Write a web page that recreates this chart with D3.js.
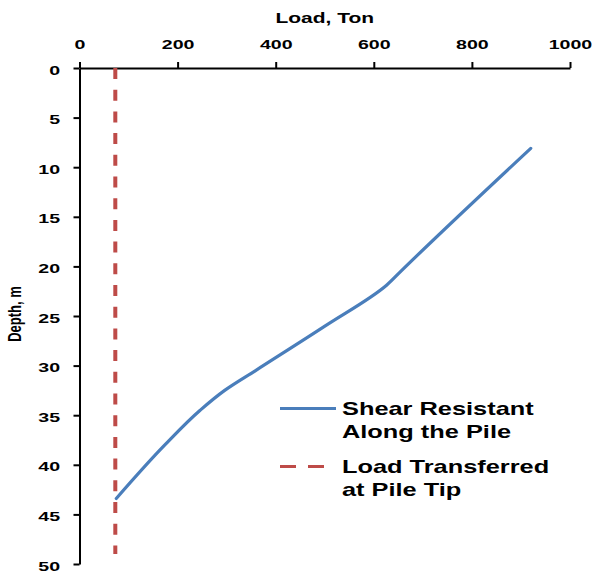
<!DOCTYPE html>
<html>
<head>
<meta charset="utf-8">
<script src="https://cdn.jsdelivr.net/npm/d3@7"></script>
<style>
  html, body { margin: 0; padding: 0; background: #ffffff; }
  svg { display: block; }
  text { font-family: "Liberation Sans", Arial, sans-serif; fill: #000; }
</style>
</head>
<body>
<svg id="chart" width="595" height="574"></svg>
<script>
// Load carried along the pile (shear) versus depth
const shearDepth = [8.1, 20.4, 21.9, 26.0, 30.5, 32.5, 34.5, 38.0, 43.4];
const shearLoad  = [920, 657, 626, 501, 359, 296, 246, 174, 75];

// Load transferred at the pile tip, constant with depth
const tipDepth = [0, 49];
const tipLoad  = [73, 73];

const loadTicks  = [0, 200, 400, 600, 800, 1000];
const depthTicks = [0, 5, 10, 15, 20, 25, 30, 35, 40, 45, 50];

const seriesNames = [["Shear Resistant", "Along the Pile"], ["Load Transferred", "at Pile Tip"]];
const seriesColors = ["#4A7EBB", "#BE4B48"];

const svg = d3.select("#chart");
const stretch = 1.45; // wide lettering

const x = d3.scaleLinear().domain([0, 1000]).range([79.5, 570]);
const y = d3.scaleLinear().domain([0, 50]).range([68, 564]);

// Top (load) axis
const xAxis = svg.append("g")
  .attr("transform", `translate(0,${y(0)})`)
  .call(d3.axisTop(x).tickValues(loadTicks).tickSize(6).tickSizeOuter(0).tickPadding(13).tickFormat(d3.format("d")));
xAxis.select(".domain").attr("stroke", "#000").attr("stroke-width", 2);
xAxis.selectAll(".tick line").attr("stroke", "#000").attr("stroke-width", 2);
xAxis.selectAll(".tick text")
  .attr("font-size", 13.5).attr("font-weight", "bold")
  .attr("font-family", "Liberation Sans, Arial, sans-serif")
  .attr("transform", `scale(${stretch},1)`);

// Left (depth) axis
const yAxis = svg.append("g")
  .attr("transform", `translate(${x(0)},0)`)
  .call(d3.axisLeft(y).tickValues(depthTicks).tickSize(6).tickSizeOuter(0).tickFormat(d3.format("d")));
yAxis.select(".domain").attr("stroke", "#000").attr("stroke-width", 2);
yAxis.selectAll(".tick line").attr("stroke", "#000").attr("stroke-width", 2);
yAxis.selectAll(".tick text")
  .attr("font-size", 13.5).attr("font-weight", "bold")
  .attr("font-family", "Liberation Sans, Arial, sans-serif")
  .attr("x", -19.5 / stretch)
  .attr("dy", "0.45em")
  .attr("transform", `scale(${stretch},1)`);

// Axis titles
svg.append("text")
  .attr("transform", `translate(${(x(0) + x(1000)) / 2},22.5) scale(1.4,1)`)
  .attr("text-anchor", "middle")
  .attr("font-size", 15).attr("font-weight", "bold")
  .text("Load, Ton");

svg.append("text")
  .attr("transform", `translate(21,314) scale(1.4,1) rotate(-90)`)
  .attr("text-anchor", "middle")
  .attr("font-size", 13).attr("font-weight", "bold")
  .text("Depth, m");

// Series lines
const shearLine = d3.line()
  .x((d, i) => x(shearLoad[i]))
  .y(d => y(d))
  .curve(d3.curveMonotoneY);

svg.append("path")
  .datum(shearDepth)
  .attr("d", shearLine)
  .attr("fill", "none")
  .attr("stroke", seriesColors[0])
  .attr("stroke-width", 3.2)
  .attr("stroke-linejoin", "round")
  .attr("stroke-linecap", "round");

const tipLine = d3.line()
  .x((d, i) => x(tipLoad[i]))
  .y(d => y(d));

svg.append("path")
  .datum(tipDepth)
  .attr("d", tipLine)
  .attr("fill", "none")
  .attr("stroke", seriesColors[1])
  .attr("stroke-width", 4)
  .attr("stroke-dasharray", "11,10.7");

// Legend
const legend = svg.append("g");
const legendRows = [408.5, 466.5];
legendRows.forEach((ly, i) => {
  legend.append("line")
    .attr("x1", 280).attr("x2", i === 0 ? 336 : 325)
    .attr("y1", ly).attr("y2", ly)
    .attr("stroke", seriesColors[i])
    .attr("stroke-width", 3)
    .attr("stroke-dasharray", i === 0 ? null : "16,12");
  seriesNames[i].forEach((t, k) => {
    legend.append("text")
      .attr("transform", `translate(342,${ly + 6.5 + k * 22.5}) scale(1.45,1)`)
      .attr("font-size", 17.5).attr("font-weight", "bold")
      .text(t);
  });
});
</script>
</body>
</html>
